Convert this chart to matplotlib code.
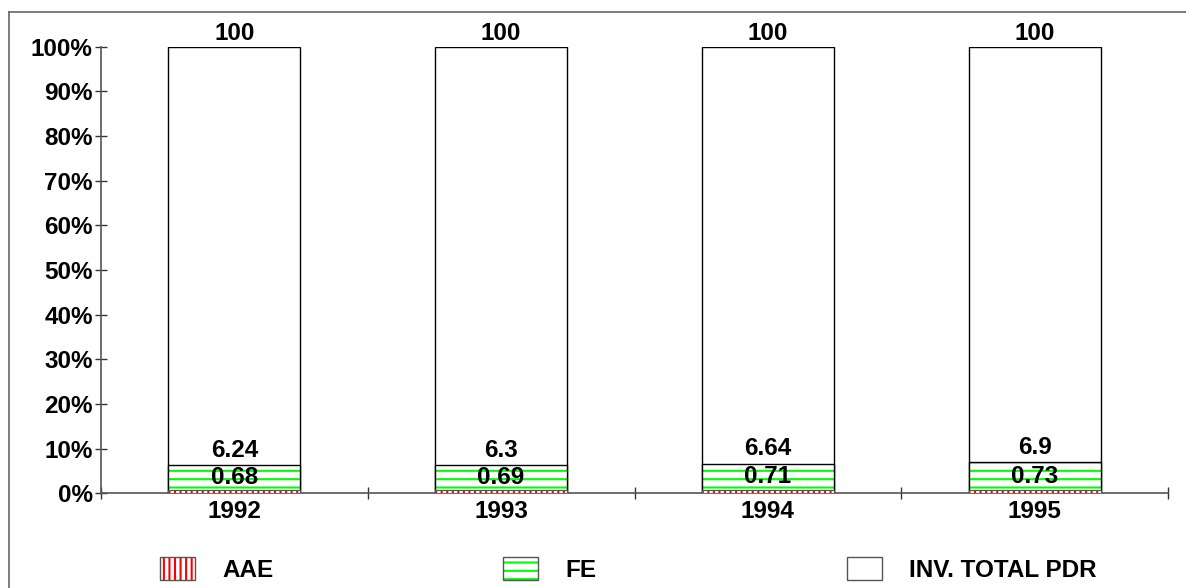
import numpy as np
import matplotlib
matplotlib.use('Agg')
import matplotlib.pyplot as plt
from matplotlib.patches import Patch
from matplotlib.lines import Line2D
from matplotlib.legend_handler import HandlerTuple

# data
years = ['1992', '1993', '1994', '1995']
aae = [0.68, 0.69, 0.71, 0.73]
fe = [6.24, 6.3, 6.64, 6.9]
total = [100, 100, 100, 100]
yticks = [0, 10, 20, 30, 40, 50, 60, 70, 80, 90, 100]

plt.rcParams['font.family'] = ['Liberation Sans', 'DejaVu Sans']
plt.rcParams['font.weight'] = 'bold'
plt.rcParams['hatch.linewidth'] = 1.5
fs = 17.5

fig = plt.figure(figsize=(11.86, 5.88), dpi=100)
ax = fig.add_axes([101/1186, 1-493.3/588, 1067/1186, 446.6/588])

x = np.arange(1, len(years)+1)
w = 0.495

# total bar (white)
ax.bar(x, total, w, color='white', edgecolor='black', linewidth=1, zorder=2)
# FE bar: green horizontal hatch + black outline
ax.bar(x, fe, w, color='white', edgecolor='#00ff00', hatch='--', linewidth=0, zorder=3)
ax.bar(x, fe, w, fill=False, edgecolor='black', linewidth=1, zorder=4)
# AAE bar: red vertical hatch
ax.bar(x, aae, w, color='white', edgecolor='red', hatch='|||', linewidth=0, zorder=5)
ax.bar(x, aae, w, fill=False, edgecolor='#555555', linewidth=0.8, zorder=6)

# value labels
for i in range(len(years)):
    ax.annotate(f'{total[i]:g}', (x[i], total[i]), xytext=(0, 1.5), textcoords='offset points',
                ha='center', va='bottom', fontsize=fs, fontweight='bold')
    ax.annotate(f'{fe[i]:g}', (x[i], fe[i]), xytext=(0, 2.5), textcoords='offset points',
                ha='center', va='bottom', fontsize=fs, fontweight='bold', zorder=10)
    ax.text(x[i], (aae[i]+fe[i])/2, f'{aae[i]:g}', ha='center', va='center',
            fontsize=fs, fontweight='bold', zorder=10)

ax.set_xlim(0.5, 4.5)
ax.set_ylim(0, 100)
ax.set_yticks(yticks)
ax.set_yticklabels([f'{t}%' for t in yticks], fontsize=fs, fontweight='bold')
ax.set_xticks(np.arange(0.5, 4.6, 1))
ax.set_xticklabels([])
ax.set_xticks(x, minor=True)
ax.set_xticklabels(years, minor=True, fontsize=fs, fontweight='bold')
ax.tick_params(axis='x', which='minor', length=0, pad=5)
ax.tick_params(axis='both', which='major', direction='inout', length=9, width=1, color='#333333', pad=4)
ax.tick_params(axis='y', which='major', pad=1.5)
for s in ['top', 'right']:
    ax.spines[s].set_visible(False)
for s in ['left', 'bottom']:
    ax.spines[s].set_color('#555555')
    ax.spines[s].set_linewidth(1.2)

# legend, one entry per column
labels = ['AAE', 'FE', 'INV. TOTAL PDR']
handles = [
    (Patch(facecolor='white', edgecolor='red', hatch='|||', linewidth=0),
     Patch(fill=False, edgecolor='#555555', linewidth=1)),
    (Patch(facecolor='white', edgecolor='#00ff00', hatch='--', linewidth=0),
     Patch(fill=False, edgecolor='#555555', linewidth=1)),
    (Patch(facecolor='white', edgecolor='#555555', linewidth=1),),
]
xpos = [160, 503, 847]
for h, lab, xp in zip(handles, labels, xpos):
    fig.legend([h], [lab], loc='center left', bbox_to_anchor=(xp/1186, 1-569.5/588),
               frameon=False, borderpad=0, borderaxespad=0,
               handlelength=35/24.3, handleheight=25/24.3, handletextpad=27/24.3,
               handler_map={tuple: HandlerTuple(ndivide=1, pad=0)},
               prop={'weight': 'bold', 'size': fs})

# outer frame (top and left edges only visible)
fig.add_artist(Line2D([9/1186, 1], [1-12/588, 1-12/588], color='#666666', lw=1.2))
fig.add_artist(Line2D([9/1186, 9/1186], [0, 1-12/588], color='#666666', lw=1.2))

fig.savefig('out.png', dpi=100)
